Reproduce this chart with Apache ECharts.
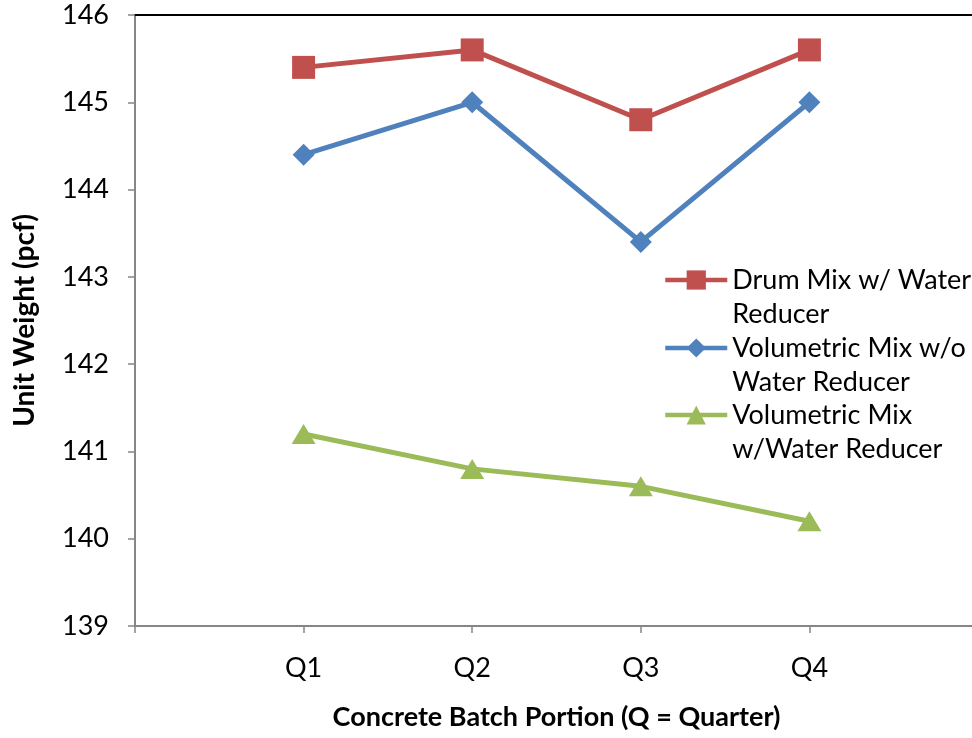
<!DOCTYPE html>
<html>
<head>
<meta charset="utf-8">
<script src="https://cdn.jsdelivr.net/npm/echarts@6/dist/echarts.min.js"></script>
<style>html,body{margin:0;padding:0;background:#fff}#c{width:972px;height:738px}</style>
</head>
<body>
<div id="c"></div>
<script>
const categories = ['Q1', 'Q2', 'Q3', 'Q4'];
const drumMixWR = [145.4, 145.6, 144.8, 145.6];
const volMixNoWR = [144.4, 145.0, 143.4, 145.0];
const volMixWR = [141.2, 140.8, 140.6, 140.2];
const seriesNames = ['Drum Mix w/ Water\nReducer', 'Volumetric Mix w/o\nWater Reducer', 'Volumetric Mix\nw/Water Reducer'];
const yTicks = { min: 139, max: 146, interval: 1 };

const axisCats = [''].concat(categories, ['']);
const pad = arr => [null].concat(arr, [null]);
const FONT = 'Lato';
const gray = '#868686';

const chart = echarts.init(document.getElementById('c'));
const legendBase = (name, top) => ({
  data: [name], orient: 'vertical', left: 663, top: top, padding: 0,
  itemWidth: 62, itemHeight: 24, itemGap: 0, selectedMode: false,
  lineStyle: { width: 4.5 },
  formatter: n => ' \n' + n,
  textStyle: { fontFamily: FONT, fontSize: 27, color: '#000', lineHeight: 34 }
});
chart.setOption({
  animation: false,
  backgroundColor: '#fff',
  grid: { left: 135, width: 843, top: 15, bottom: 112, containLabel: false, outerBoundsMode: 'none' },
  legend: [legendBase(seriesNames[0], 229), legendBase(seriesNames[1], 297), legendBase(seriesNames[2], 364)],
  xAxis: [{
    type: 'category', data: axisCats, boundaryGap: false,
    axisLine: { lineStyle: { color: gray, width: 2 } },
    axisTick: { show: true, length: 7, lineStyle: { color: gray, width: 1.5 } },
    axisLabel: { fontFamily: FONT, fontSize: 27, color: '#000', margin: 29 },
    splitLine: { show: false },
    name: 'Concrete Batch Portion (Q = Quarter)', nameLocation: 'middle', nameGap: 78,
    nameTextStyle: { fontFamily: FONT, fontSize: 27, fontWeight: 'bold', color: '#000' }
  }, {
    type: 'category', data: axisCats, boundaryGap: false, position: 'top',
    axisLine: { lineStyle: { color: '#000', width: 2 } },
    axisTick: { show: false }, axisLabel: { show: false }
  }],
  yAxis: {
    type: 'value', min: yTicks.min, max: yTicks.max, interval: yTicks.interval,
    axisLine: { show: true, lineStyle: { color: gray, width: 2 } },
    axisTick: { show: true, length: 7, lineStyle: { color: gray, width: 1.5 } },
    axisLabel: { fontFamily: FONT, fontSize: 27, color: '#000', margin: 26 },
    splitLine: { show: false },
    name: 'Unit Weight (pcf)', nameLocation: 'middle', nameGap: 96, nameRotate: 90,
    nameTextStyle: { fontFamily: FONT, fontSize: 28, fontWeight: 'bold', color: '#000' }
  },
  series: [
    { name: seriesNames[1], type: 'line', data: pad(volMixNoWR), symbol: 'diamond', symbolSize: 22,
      itemStyle: { color: '#4F81BD' }, lineStyle: { color: '#4F81BD', width: 5 }, z: 2 },
    { name: seriesNames[0], type: 'line', data: pad(drumMixWR), symbol: 'rect', symbolSize: 23,
      itemStyle: { color: '#C0504D' }, lineStyle: { color: '#C0504D', width: 5 }, z: 3 },
    { name: seriesNames[2], type: 'line', data: pad(volMixWR), symbol: 'triangle', symbolSize: [24, 20],
      itemStyle: { color: '#9BBB59' }, lineStyle: { color: '#9BBB59', width: 5 }, z: 2 }
  ]
});
</script>
</body>
</html>
